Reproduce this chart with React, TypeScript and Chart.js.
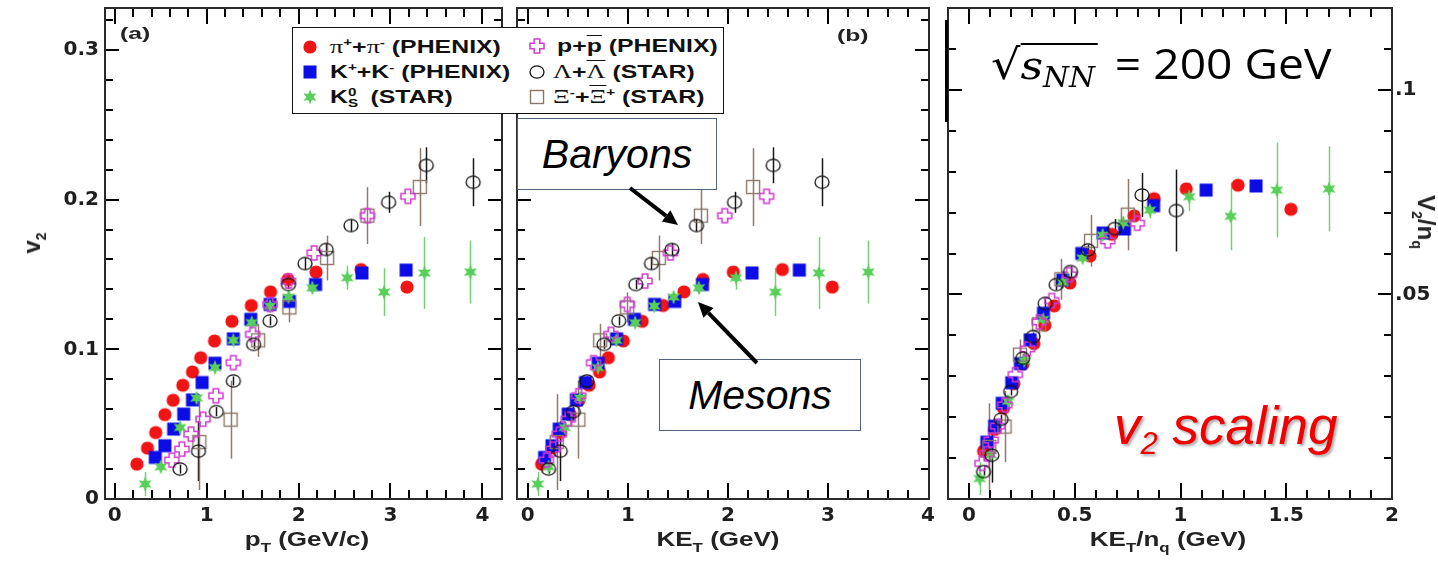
import React, { useEffect, useRef, useMemo } from 'react';
import { Chart, registerables } from 'chart.js';
Chart.register(...registerables);

// ---------------- data ----------------
// pi+ + pi- (PHENIX)
const PI_PT = [0.24, 0.355, 0.445, 0.545, 0.635, 0.74, 0.845, 0.935, 1.085, 1.275, 1.485, 1.695, 1.885, 2.19, 2.68, 3.18];
const PI_V2 = [0.0233, 0.034, 0.0444, 0.0564, 0.066, 0.076, 0.0849, 0.0944, 0.1056, 0.1187, 0.1293, 0.1384, 0.1467, 0.1516, 0.1533, 0.1416];
const PI_KE = [0.138, 0.242, 0.326, 0.423, 0.51, 0.613, 0.717, 0.805, 0.954, 1.143, 1.352, 1.561, 1.75, 2.054, 2.544, 3.043];
const PI_KEN = [0.069, 0.121, 0.163, 0.212, 0.255, 0.307, 0.359, 0.403, 0.477, 0.572, 0.676, 0.781, 0.875, 1.027, 1.272, 1.522];
const PI_V2N = [0.0117, 0.017, 0.0222, 0.0282, 0.033, 0.038, 0.0425, 0.0472, 0.0528, 0.0594, 0.0647, 0.0692, 0.0734, 0.0758, 0.0767, 0.0708];

// K+ + K- (PHENIX)
const K_PT = [0.44, 0.545, 0.64, 0.75, 0.845, 0.95, 1.09, 1.29, 1.48, 1.69, 1.9, 2.185, 2.69, 3.17];
const K_V2 = [0.0278, 0.0356, 0.0467, 0.0567, 0.0662, 0.0778, 0.0907, 0.107, 0.12, 0.13, 0.132, 0.1433, 0.151, 0.1529];
const K_KE = [0.168, 0.242, 0.314, 0.404, 0.485, 0.577, 0.703, 0.887, 1.066, 1.267, 1.469, 1.746, 2.241, 2.714];
const K_KEN = [0.084, 0.121, 0.157, 0.202, 0.243, 0.289, 0.352, 0.444, 0.533, 0.634, 0.735, 0.873, 1.121, 1.357];
const K_V2N = [0.0139, 0.0178, 0.0234, 0.0284, 0.0331, 0.0389, 0.0454, 0.0535, 0.06, 0.065, 0.066, 0.0717, 0.0755, 0.0765];

// K0s (STAR)
const KS_PT = [0.33, 0.5, 0.71, 0.89, 1.09, 1.29, 1.49, 1.69, 1.89, 2.15, 2.53, 2.93, 3.37, 3.87];
const KS_V2 = [0.01, 0.0215, 0.0478, 0.0675, 0.0878, 0.106, 0.1178, 0.1289, 0.1349, 0.1411, 0.1478, 0.1382, 0.151, 0.1516];
const KS_ERR = [0.008, 0.003, 0.003, 0.003, 0.002, 0.002, 0.002, 0.002, 0.003, 0.004, 0.008, 0.016, 0.024, 0.021];
const KS_KE = [0.099, 0.208, 0.369, 0.522, 0.701, 0.885, 1.073, 1.264, 1.457, 1.709, 2.081, 2.474, 2.909, 3.404];
const KS_KEN = [0.05, 0.104, 0.185, 0.261, 0.351, 0.443, 0.537, 0.632, 0.729, 0.855, 1.041, 1.237, 1.455, 1.702];
const KS_V2N = [0.005, 0.0108, 0.0239, 0.0338, 0.0439, 0.053, 0.0589, 0.0645, 0.0675, 0.0706, 0.0739, 0.0691, 0.0755, 0.0758];
const KS_ERRN = [0.004, 0.0015, 0.0015, 0.0015, 0.001, 0.001, 0.001, 0.001, 0.0015, 0.002, 0.0035, 0.0083, 0.0116, 0.0104];

// p + pbar (PHENIX)
const P_PT = [0.62, 0.73, 0.83, 0.96, 1.1, 1.29, 1.5, 1.69, 1.89, 2.17, 2.75, 3.19];
const P_V2 = [0.026, 0.0333, 0.0433, 0.0533, 0.069, 0.0911, 0.11, 0.13, 0.1456, 0.1644, 0.1893, 0.2022];
const P_KE = [0.186, 0.251, 0.314, 0.404, 0.508, 0.657, 0.831, 0.995, 1.172, 1.426, 1.968, 2.387];
const P_KEN = [0.062, 0.084, 0.105, 0.135, 0.169, 0.219, 0.277, 0.332, 0.391, 0.475, 0.656, 0.796];
const P_V2N = [0.0087, 0.0111, 0.0144, 0.0178, 0.023, 0.0304, 0.0367, 0.0433, 0.0485, 0.0548, 0.0631, 0.0674];

// Lambda + anti-Lambda (STAR)
const L_PT = [0.71, 0.91, 1.105, 1.29, 1.51, 1.69, 1.89, 2.07, 2.3, 2.57, 2.98, 3.39, 3.9];
const L_V2 = [0.02, 0.032, 0.0584, 0.0789, 0.1033, 0.119, 0.1433, 0.1573, 0.1667, 0.1827, 0.1982, 0.2229, 0.2116];
const L_ERR = [0.003, 0.02, 0.003, 0.003, 0.003, 0.003, 0.003, 0.004, 0.004, 0.004, 0.007, 0.012, 0.016];
const L_KE = [0.207, 0.324, 0.455, 0.59, 0.762, 0.909, 1.079, 1.236, 1.44, 1.686, 2.066, 2.453, 2.941];
const L_KEN = [0.069, 0.108, 0.152, 0.197, 0.254, 0.303, 0.36, 0.412, 0.48, 0.562, 0.689, 0.818, 0.98];
const L_V2N = [0.0067, 0.0107, 0.0195, 0.0263, 0.0344, 0.0397, 0.0478, 0.0524, 0.0556, 0.0609, 0.0661, 0.0743, 0.0705];
const L_ERRN = [0.001, 0.0067, 0.001, 0.001, 0.001, 0.001, 0.001, 0.0013, 0.0013, 0.0013, 0.0023, 0.0054, 0.01];

// Xi- + anti-Xi+ (STAR)
const X_PT = [0.92, 1.26, 1.56, 1.9, 2.31, 2.75, 3.32];
const X_V2 = [0.038, 0.053, 0.106, 0.128, 0.161, 0.1893, 0.2084];
const X_ERR = [0.032, 0.026, 0.011, 0.01, 0.015, 0.019, 0.026];
const X_KE = [0.289, 0.505, 0.723, 0.993, 1.31, 1.73, 2.252];
const X_KEN = [0.096, 0.168, 0.241, 0.331, 0.437, 0.577, 0.751];
const X_V2N = [0.0127, 0.0177, 0.0353, 0.0427, 0.0537, 0.0631, 0.0695];
const X_ERRN = [0.0107, 0.0087, 0.0037, 0.0033, 0.005, 0.0063, 0.0087];

// axis ticks / labels
const AB_Y_TICKS = [0, 0.1, 0.2, 0.3];
const A_Y_LABELS = ['0', '0.1', '0.2', '0.3'];
const AB_X_TICKS = [0, 1, 2, 3, 4];
const AB_X_LABELS = ['0', '1', '2', '3', '4'];
const C_X_TICKS = [0, 0.5, 1, 1.5, 2];
const C_X_LABELS = ['0', '0.5', '1', '1.5', '2'];
const C_Y_TICKS = [0.05, 0.1];
const C_Y_LABELS = ['.05', '.1'];

const FONT = '"Liberation Sans", Arial, Helvetica, sans-serif';
const TICKFONT = '"DejaVu Sans", "Liberation Sans", sans-serif';
const SERIF = '"Liberation Serif", "Times New Roman", serif';

type Markers = Record<'pion' | 'kaon' | 'k0s' | 'proton' | 'lambda' | 'xi', HTMLCanvasElement>;

function makeMarkers(): Markers {
  const mk = (draw: (c: CanvasRenderingContext2D) => void) => {
    const cv = document.createElement('canvas');
    cv.width = 18;
    cv.height = 18;
    const c = cv.getContext('2d')!;
    c.translate(9, 9);
    draw(c);
    return cv;
  };
  return {
    pion: mk((c) => {
      c.fillStyle = '#f01414';
      c.beginPath();
      c.arc(0, 0, 6.6, 0, Math.PI * 2);
      c.fill();
    }),
    kaon: mk((c) => {
      c.fillStyle = '#0c0ce6';
      c.fillRect(-6.5, -6.5, 13, 13);
    }),
    k0s: mk((c) => {
      c.fillStyle = '#58cf58';
      c.beginPath();
      for (let i = 0; i < 12; i++) {
        const a = -Math.PI / 2 + (i * Math.PI) / 6;
        const r = i % 2 === 0 ? 7.5 : 3.6;
        const px = Math.cos(a) * r;
        const py = Math.sin(a) * r;
        if (i === 0) c.moveTo(px, py);
        else c.lineTo(px, py);
      }
      c.closePath();
      c.fill();
    }),
    proton: mk((c) => {
      const a = 2.8;
      const e = 7;
      const pts = [[-a, -e], [a, -e], [a, -a], [e, -a], [e, a], [a, a], [a, e], [-a, e], [-a, a], [-e, a], [-e, -a], [-a, -a]];
      c.strokeStyle = '#d23ad2';
      c.lineWidth = 1.5;
      c.beginPath();
      pts.forEach(([x, y], i) => (i === 0 ? c.moveTo(x, y) : c.lineTo(x, y)));
      c.closePath();
      c.stroke();
    }),
    lambda: mk((c) => {
      c.strokeStyle = '#111';
      c.lineWidth = 1.3;
      c.beginPath();
      c.ellipse(0, 0, 7, 6.2, 0, 0, Math.PI * 2);
      c.stroke();
    }),
    xi: mk((c) => {
      c.strokeStyle = '#8a7868';
      c.lineWidth = 1.4;
      c.strokeRect(-6.5, -6.5, 13, 13);
    }),
  };
}

type FrameCfg = {
  xFirst: number; xLast: number; xMinor: number; xEvery: number;
  yFirst: number; yLast: number; yMinor: number; yEvery: number;
};

// frame with inward tick marks on all four sides, positioned by the chart's scales
function drawFrame(chart: any, cfg: FrameCfg) {
  const ctx: CanvasRenderingContext2D = chart.ctx;
  const area = chart.chartArea;
  const sx = chart.scales.x;
  const sy = chart.scales.y;
  const L = Math.round(area.left);
  const R = Math.round(area.right);
  const T = Math.round(area.top);
  const B = Math.round(area.bottom);
  ctx.save();
  ctx.fillStyle = '#000000';
  const nx = Math.round((cfg.xLast - cfg.xFirst) / cfg.xMinor);
  for (let i = 0; i <= nx; i++) {
    const px = Math.round(sx.getPixelForValue(cfg.xFirst + i * cfg.xMinor));
    const len = i % cfg.xEvery === 0 ? 16 : 9;
    if (px > L + 2 && px < R - 2) {
      ctx.fillRect(px - 1, B - len, 2, len);
      ctx.fillRect(px - 1, T, 2, len);
    }
  }
  const ny = Math.round((cfg.yLast - cfg.yFirst) / cfg.yMinor);
  for (let i = 0; i <= ny; i++) {
    const py = Math.round(sy.getPixelForValue(cfg.yFirst + i * cfg.yMinor));
    const len = i % cfg.yEvery === 0 ? 14 : 8;
    if (py > T + 2 && py < B - 2) {
      ctx.fillRect(L, py - 1, len, 2);
      ctx.fillRect(R - len, py - 1, len, 2);
    }
  }
  ctx.fillStyle = '#2b2b2b';
  ctx.fillRect(L - 1, T - 1, R - L + 2, 2);
  ctx.fillRect(L - 1, B - 1, R - L + 2, 2);
  ctx.fillRect(L - 1, T - 1, 2, B - T + 2);
  ctx.fillRect(R - 1, T - 1, 2, B - T + 2);
  ctx.restore();
}

// error bars (under markers) + frame
function makeDecor(cfg: FrameCfg) {
  return {
    id: 'decor',
    beforeDatasetsDraw(chart: any) {
      const ctx = chart.ctx;
      const area = chart.chartArea;
      const sx = chart.scales.x;
      const sy = chart.scales.y;
      ctx.save();
      ctx.beginPath();
      ctx.rect(area.left, area.top, area.right - area.left, area.bottom - area.top);
      ctx.clip();
      chart.data.datasets.forEach((ds: any) => {
        if (!ds.errs) return;
        ctx.strokeStyle = ds.errColor;
        ctx.lineWidth = 1.5;
        ds.data.forEach((p: any, i: number) => {
          const e = ds.errs[i];
          if (!e) return;
          const px = Math.round(sx.getPixelForValue(p.x)) + 0.5;
          ctx.beginPath();
          ctx.moveTo(px, sy.getPixelForValue(p.y - e));
          ctx.lineTo(px, sy.getPixelForValue(p.y + e));
          ctx.stroke();
        });
      });
      ctx.restore();
    },
    afterDraw(chart: any) {
      drawFrame(chart, cfg);
    },
  };
}

function axis(min: number, max: number, ticks: number[], labels: string[], size: number, pad: number, fit: number, isX: boolean, position: string) {
  return {
    type: 'linear',
    position,
    min,
    max,
    grid: { display: false, drawTicks: false },
    border: { display: false },
    afterBuildTicks: (s: any) => {
      s.ticks = ticks.map((v) => ({ value: v }));
    },
    ticks: {
      autoSkip: false,
      maxRotation: 0,
      minRotation: 0,
      padding: pad,
      color: '#1e1e1e',
      font: { family: TICKFONT, weight: 'bold', size },
      callback: (_v: any, i: number) => labels[i],
    },
    afterFit: (s: any) => {
      if (isX) s.height = fit;
      else s.width = fit;
      s.paddingTop = 0;
      s.paddingBottom = 0;
      s.paddingLeft = 0;
      s.paddingRight = 0;
    },
  };
}

function pts(xs: number[], ys: number[]) {
  return xs.map((x, i) => ({ x, y: ys[i] }));
}

function datasets(m: Markers, sets: { xs: number[]; ys: number[]; style: keyof Markers; errs?: number[]; errColor?: string; label: string }[]) {
  return sets.map((s) => ({
    label: s.label,
    data: pts(s.xs, s.ys),
    pointStyle: m[s.style],
    pointRadius: 7,
    showLine: false,
    errs: s.errs,
    errColor: s.errColor,
  }));
}

const ERR_GREEN = '#74d074';
const ERR_BLACK = '#151515';
const ERR_BROWN = '#8f7b6c';

function ChartBox({ left, top, width, height, build, frame }: { left: number; top: number; width: number; height: number; build: () => any; frame: FrameCfg }) {
  const ref = useRef<HTMLCanvasElement>(null);
  useEffect(() => {
    const chart = new Chart(ref.current!, build());
    drawFrame(chart, frame);
    return () => chart.destroy();
  }, []);
  return <canvas ref={ref} width={width} height={height} style={{ position: 'absolute', left, top, width, height }} />;
}

const baseOpts = {
  responsive: false,
  animation: false,
  events: [],
  plugins: { legend: { display: false }, tooltip: { enabled: false } },
};

function Arrow({ x1, y1, x2, y2 }: { x1: number; y1: number; x2: number; y2: number }) {
  const ang = Math.atan2(y2 - y1, x2 - x1);
  const L = 15;
  const W = 7;
  const bx = x2 - Math.cos(ang) * L;
  const by = y2 - Math.sin(ang) * L;
  const nx = -Math.sin(ang) * W;
  const ny = Math.cos(ang) * W;
  return (
    <g>
      <line x1={x1} y1={y1} x2={bx} y2={by} stroke="#000" strokeWidth={4} />
      <polygon points={`${x2},${y2} ${bx + nx},${by + ny} ${bx - nx},${by - ny}`} fill="#000" />
    </g>
  );
}

const sup = (t: string) => <span style={{ fontSize: 11, position: 'relative', top: -7 }}>{t}</span>;
const greek = (t: string, over = false) => (
  <span style={{ fontFamily: SERIF, fontWeight: 'normal', fontSize: 19, textDecoration: over ? 'overline' : 'none' }}>{t}</span>
);

const A_X = [-0.107, 4.214];
const B_X = [-0.108, 4.01];
const C_X = [-0.0993, 2.0];
const AB_Y = [0, 0.328];
const C_Y = [0, 0.12];

const FRAME_AB: FrameCfg = { xFirst: 0, xLast: 4.2, xMinor: 0.2, xEvery: 5, yFirst: 0, yLast: 0.32, yMinor: 0.02, yEvery: 5 };
const FRAME_C: FrameCfg = { xFirst: 0, xLast: 2.0, xMinor: 0.1, xEvery: 5, yFirst: 0, yLast: 0.12, yMinor: 0.01, yEvery: 5 };

export default function App() {
  const m = useMemo(() => makeMarkers(), []);
  const urls = useMemo(() => {
    const o: Record<string, string> = {};
    (Object.keys(m) as (keyof Markers)[]).forEach((k) => (o[k] = m[k].toDataURL()));
    return o;
  }, [m]);

  const buildA = () => ({
    type: 'scatter',
    data: {
      datasets: datasets(m, [
        { label: 'Λ+Λ̄ (STAR)', xs: L_PT, ys: L_V2, style: 'lambda', errs: L_ERR, errColor: ERR_BLACK },
        { label: 'p+p̄ (PHENIX)', xs: P_PT, ys: P_V2, style: 'proton' },
        { label: 'Ξ-+Ξ̄+ (STAR)', xs: X_PT, ys: X_V2, style: 'xi', errs: X_ERR, errColor: ERR_BROWN },
        { label: 'K0S (STAR)', xs: KS_PT, ys: KS_V2, style: 'k0s', errs: KS_ERR, errColor: ERR_GREEN },
        { label: 'K++K- (PHENIX)', xs: K_PT, ys: K_V2, style: 'kaon' },
        { label: 'π++π- (PHENIX)', xs: PI_PT, ys: PI_V2, style: 'pion' },
      ]),
    },
    options: {
      ...baseOpts,
      layout: { padding: { left: 0, top: 7, right: 1, bottom: 0 } },
      scales: {
        x: axis(A_X[0], A_X[1], AB_X_TICKS, AB_X_LABELS, 20, 5, 62, true, 'bottom'),
        y: axis(AB_Y[0], AB_Y[1], AB_Y_TICKS, A_Y_LABELS, 20, 6, 105, false, 'left'),
      },
    },
    plugins: [makeDecor(FRAME_AB)],
  });

  const buildB = () => ({
    type: 'scatter',
    data: {
      datasets: datasets(m, [
        { label: 'Λ+Λ̄ (STAR)', xs: L_KE, ys: L_V2, style: 'lambda', errs: L_ERR, errColor: ERR_BLACK },
        { label: 'p+p̄ (PHENIX)', xs: P_KE, ys: P_V2, style: 'proton' },
        { label: 'Ξ-+Ξ̄+ (STAR)', xs: X_KE, ys: X_V2, style: 'xi', errs: X_ERR, errColor: ERR_BROWN },
        { label: 'K0S (STAR)', xs: KS_KE, ys: KS_V2, style: 'k0s', errs: KS_ERR, errColor: ERR_GREEN },
        { label: 'K++K- (PHENIX)', xs: K_KE, ys: K_V2, style: 'kaon' },
        { label: 'π++π- (PHENIX)', xs: PI_KE, ys: PI_V2, style: 'pion' },
      ]),
    },
    options: {
      ...baseOpts,
      layout: { padding: { left: 0, top: 7, right: 20, bottom: 0 } },
      scales: {
        x: axis(B_X[0], B_X[1], AB_X_TICKS, AB_X_LABELS, 20, 5, 62, true, 'bottom'),
        y: { type: 'linear', min: AB_Y[0], max: AB_Y[1], display: false },
      },
    },
    plugins: [makeDecor(FRAME_AB)],
  });

  const buildC = () => ({
    type: 'scatter',
    data: {
      datasets: datasets(m, [
        { label: 'Λ+Λ̄ (STAR)', xs: L_KEN, ys: L_V2N, style: 'lambda', errs: L_ERRN, errColor: ERR_BLACK },
        { label: 'p+p̄ (PHENIX)', xs: P_KEN, ys: P_V2N, style: 'proton' },
        { label: 'Ξ-+Ξ̄+ (STAR)', xs: X_KEN, ys: X_V2N, style: 'xi', errs: X_ERRN, errColor: ERR_BROWN },
        { label: 'K0S (STAR)', xs: KS_KEN, ys: KS_V2N, style: 'k0s', errs: KS_ERRN, errColor: ERR_GREEN },
        { label: 'K++K- (PHENIX)', xs: K_KEN, ys: K_V2N, style: 'kaon' },
        { label: 'π++π- (PHENIX)', xs: PI_KEN, ys: PI_V2N, style: 'pion' },
      ]),
    },
    options: {
      ...baseOpts,
      layout: { padding: { left: 8, top: 7, right: 0, bottom: 0 } },
      scales: {
        x: axis(C_X[0], C_X[1], C_X_TICKS, C_X_LABELS, 20, 5, 62, true, 'bottom'),
        y: axis(C_Y[0], C_Y[1], C_Y_TICKS, C_Y_LABELS, 20, 3, 46, false, 'right'),
      },
    },
    plugins: [makeDecor(FRAME_C)],
  });

  const legendRow = (y: number, x: number, mark: string, content: React.ReactNode, tx: number) => (
    <React.Fragment key={mark}>
      <img src={urls[mark]} style={{ position: 'absolute', left: x - 9, top: y - 9, width: 18, height: 18 }} />
      <div
        style={{
          position: 'absolute',
          left: tx,
          top: y - 12,
          height: 24,
          lineHeight: '24px',
          fontSize: 18,
          fontWeight: 'bold',
          whiteSpace: 'nowrap',
          color: '#111',
          transform: 'scaleX(1.38)',
          transformOrigin: 'left center',
        }}
      >
        {content}
      </div>
    </React.Fragment>
  );

  const axisTitle: React.CSSProperties = { fontFamily: FONT, fontWeight: 'bold', fontSize: 20, color: '#222', whiteSpace: 'nowrap', position: 'absolute' };
  const subS: React.CSSProperties = { fontSize: 13, position: 'relative', top: 6 };
  const boxStyle: React.CSSProperties = {
    position: 'absolute',
    height: 72,
    border: '1.5px solid #50607e',
    background: '#fff',
    boxSizing: 'border-box',
    display: 'flex',
    alignItems: 'center',
    justifyContent: 'center',
    fontStyle: 'italic',
    fontSize: 41,
    color: '#000',
  };

  return (
    <div style={{ position: 'absolute', left: 0, top: 0, width: 1438, height: 561, overflow: 'hidden', background: '#fff', fontFamily: FONT }}>
      <ChartBox left={0} top={0} width={510} height={561} build={buildA} frame={FRAME_AB} />
      <ChartBox left={509} top={0} width={440} height={561} build={buildB} frame={FRAME_AB} />
      <ChartBox left={940} top={0} width={498} height={561} build={buildC} frame={FRAME_C} />

      {/* panel labels */}
      <div style={{ ...axisTitle, left: 120, top: 24, fontSize: 17, transform: 'scaleX(1.45)', transformOrigin: 'left center' }}>(a)</div>
      <div style={{ ...axisTitle, left: 837, top: 26, fontSize: 17, transform: 'scaleX(1.45)', transformOrigin: 'left center' }}>(b)</div>

      {/* axis titles */}
      <div style={{ ...axisTitle, left: 307, top: 528, transform: 'translateX(-50%) scaleX(1.3)' }}>
        p<span style={subS}>T</span> (GeV/c)
      </div>
      <div style={{ ...axisTitle, left: 718, top: 528, transform: 'translateX(-50%) scaleX(1.3)' }}>
        KE<span style={subS}>T</span> (GeV)
      </div>
      <div style={{ ...axisTitle, left: 1168, top: 528, transform: 'translateX(-50%) scaleX(1.3)' }}>
        KE<span style={subS}>T</span>/n<span style={subS}>q</span> (GeV)
      </div>
      <div style={{ ...axisTitle, left: 32, top: 243, transform: 'translate(-50%, -50%) rotate(-90deg)', fontSize: 24 }}>
        v<span style={{ fontSize: 14, position: 'relative', top: 6 }}>2</span>
      </div>
      <div style={{ ...axisTitle, left: 1426, top: 222, transform: 'translate(-50%, -50%) rotate(90deg)', fontSize: 24 }}>
        V<span style={{ fontSize: 14, position: 'relative', top: 6 }}>2</span>/n<span style={{ fontSize: 14, position: 'relative', top: 6 }}>q</span>
      </div>

      {/* legend */}
      <div style={{ position: 'absolute', left: 292, top: 27, width: 432, height: 87, border: '1.5px solid #111', background: '#fff', boxSizing: 'border-box' }} />
      {legendRow(47, 310, 'pion', <>{greek('π')}{sup('+')}+{greek('π')}{sup('-')} (PHENIX)</>, 330)}
      {legendRow(72, 310, 'kaon', <>K{sup('+')}+K{sup('-')} (PHENIX)</>, 330)}
      {legendRow(97, 310, 'k0s', <>K<span style={{ display: 'inline-flex', flexDirection: 'column', fontSize: 11, lineHeight: '11px', verticalAlign: 'middle', marginRight: 4 }}><span>0</span><span>S</span></span> (STAR)</>, 330)}
      {legendRow(46, 537, 'proton', <>p+<span style={{ textDecoration: 'overline' }}>p</span> (PHENIX)</>, 557)}
      {legendRow(72, 537, 'lambda', <>{greek('Λ')}+{greek('Λ', true)} (STAR)</>, 553)}
      {legendRow(97, 537, 'xi', <>{greek('Ξ')}{sup('-')}+{greek('Ξ', true)}{sup('+')} (STAR)</>, 553)}

      {/* annotation boxes */}
      <div style={{ ...boxStyle, left: 517, top: 118, width: 200 }}>Baryons</div>
      <div style={{ ...boxStyle, left: 659, top: 359, width: 202 }}>Mesons</div>
      <svg width={1438} height={561} style={{ position: 'absolute', left: 0, top: 0, pointerEvents: 'none' }}>
        <Arrow x1={630} y1={188} x2={678} y2={225} />
        <Arrow x1={757} y1={363} x2={698} y2={302} />
      </svg>

      {/* sqrt(s_NN) = 200 GeV */}
      <div style={{ position: 'absolute', left: 945, top: 20, width: 3, height: 102, background: '#000' }} />
      <div style={{ position: 'absolute', left: 991, top: 34, whiteSpace: 'nowrap', display: 'flex', alignItems: 'baseline', height: 60, transform: 'scaleX(1.1)', transformOrigin: 'left center' }}>
        <span style={{ fontFamily: '"DejaVu Serif", serif', fontSize: 42, lineHeight: '58px' }}>√</span>
        <span style={{ borderTop: '2px solid #000', fontFamily: '"DejaVu Serif", serif', fontStyle: 'italic', fontSize: 40, lineHeight: '40px', paddingRight: 2 }}>
          s<span style={{ fontSize: 27, position: 'relative', top: 8 }}>NN</span>
        </span>
        <span style={{ fontFamily: '"Open Sans", "Noto Sans", sans-serif', fontSize: 42, marginLeft: 16 }}>= 200 GeV</span>
      </div>

      {/* v2 scaling */}
      <div style={{ position: 'absolute', left: 1114, top: 399, whiteSpace: 'nowrap', fontStyle: 'italic', fontSize: 53, lineHeight: '53px', color: '#f00000', textShadow: '2px 2px 3px rgba(0,0,0,0.35)' }}>
        v<span style={{ fontSize: 31, position: 'relative', top: 10 }}>2</span> scaling
      </div>
    </div>
  );
}
